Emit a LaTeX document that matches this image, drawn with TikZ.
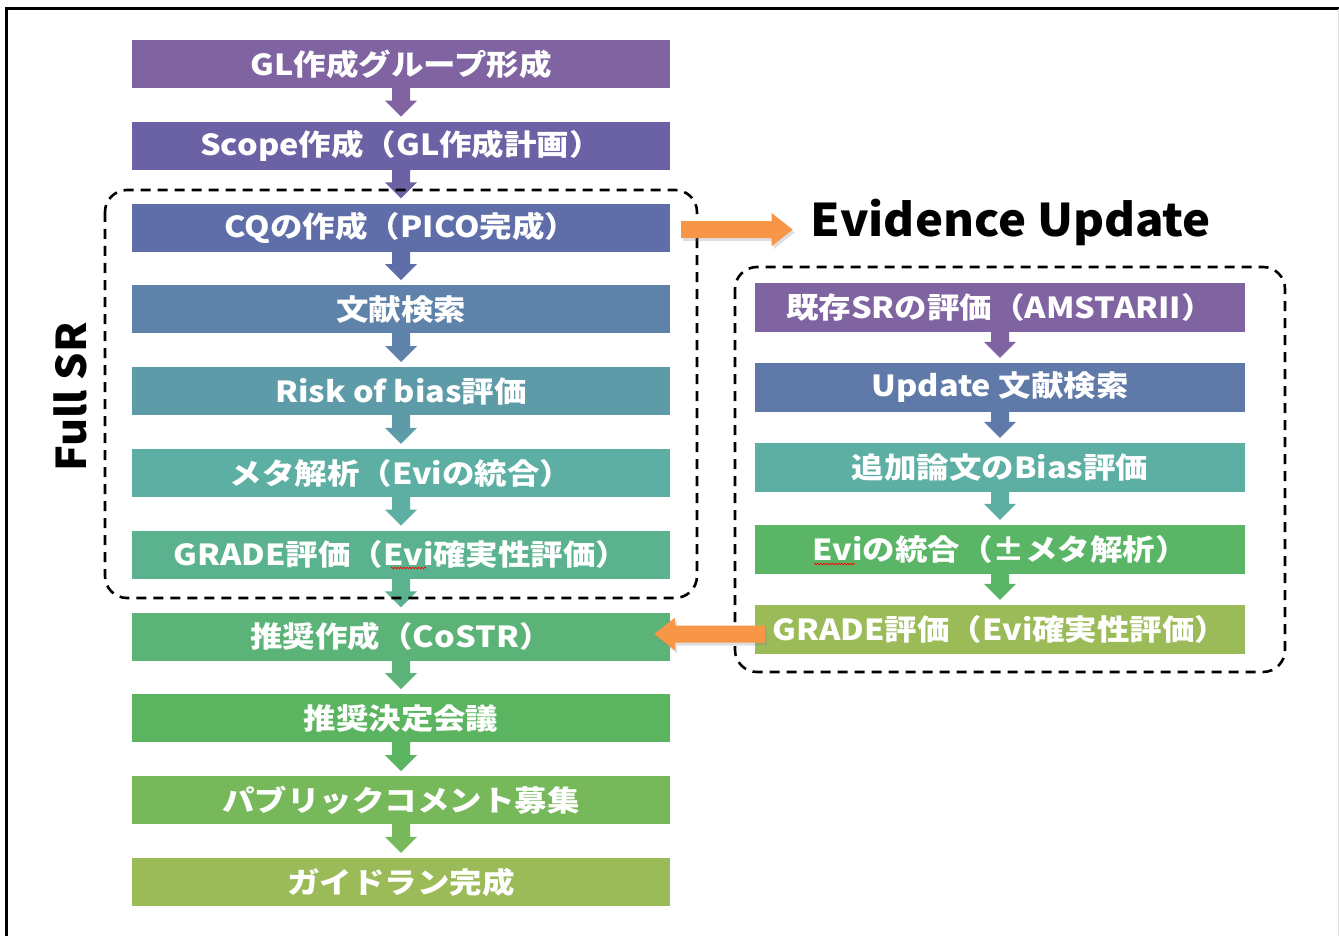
\documentclass[tikz,border=0pt]{standalone}
\usepackage{fontspec}
\setmainfont{Noto Sans CJK JP}[FakeStretch=1.12]
\newfontfamily\titlefont{Noto Sans CJK JP}[FakeStretch=1.05]
\usetikzlibrary{calc,shadows,decorations.pathmorphing}
\definecolor{cA}{HTML}{8064A2}
\definecolor{cB}{HTML}{6A62A4}
\definecolor{cC}{HTML}{5F6DA8}
\definecolor{cD}{HTML}{5E82A9}
\definecolor{cE}{HTML}{5E9BA9}
\definecolor{cF}{HTML}{5DAFA3}
\definecolor{cG}{HTML}{5BB28E}
\definecolor{cH}{HTML}{5BB377}
\definecolor{cI}{HTML}{5BB45F}
\definecolor{cJ}{HTML}{77B85B}
\definecolor{cK}{HTML}{9BBB59}
\definecolor{rB}{HTML}{5F79A8}
\definecolor{rC}{HTML}{5DAFA4}
\definecolor{rD}{HTML}{5BB567}
\definecolor{orangeA}{HTML}{F79646}
\tikzset{
  box/.style={minimum width=538pt, minimum height=48pt, inner sep=0pt, text=white,
    font=\fontsize{29}{30}\selectfont\bfseries},
  rbox/.style={box, minimum width=490pt, minimum height=49pt},
  dashbox/.style={draw=black, line width=2.6pt, dash pattern=on 10pt off 7pt, rounded corners=22pt},
  oshadow/.style={drop shadow={opacity=0.25, shadow xshift=2pt, shadow yshift=-3pt}},
  squig/.style={draw=red, line width=0.7pt, decorate, decoration={snake, amplitude=0.8pt, segment length=3pt}},
}
% vertical block arrow from node #1 (south) to node #2 (north), colour #3
\newcommand\blkdown[3]{%
  \fill[#3] let \p1=(#1.south), \p2=(#2.north) in
    (\x1-9pt,\y1+1pt) -- (\x1+9pt,\y1+1pt) -- (\x1+9pt,\y2+21pt) -- (\x1+16pt,\y2+21pt)
    -- (\x1,\y2+5pt) -- (\x1-16pt,\y2+21pt) -- (\x1-9pt,\y2+21pt) -- cycle;}
% horizontal block arrow from coordinate #1 to coordinate #2, sign #3 (1 = right, -1 = left)
\newcommand\blkhoriz[3]{%
  \fill[orangeA, oshadow] let \p1=(#1), \p2=(#2) in
    (\x1,\y1+8.5pt) -- (\x2-#3*21pt,\y1+8.5pt) -- (\x2-#3*21pt,\y1+16.5pt) -- (\x2,\y1)
    -- (\x2-#3*21pt,\y1-16.5pt) -- (\x2-#3*21pt,\y1-8.5pt) -- (\x1,\y1-8.5pt) -- cycle;}
\begin{document}
\begin{tikzpicture}[x=1pt,y=-1pt]
\useasboundingbox (0,0) rectangle (1339,936);
\fill[white] (0,0) rectangle (1339,936);
% frame
\draw[line width=3pt] (6,936) -- (6,9) -- (1339,9);
\draw[black!12, line width=1pt] (1338,9) -- (1338,936);

% left column
\node[box, fill=cA] (L1) at (401,64) {GL作成グループ形成};
\node[box, fill=cB] (L2) at (401,145.8) {Scope作成（GL作成計画）};
\node[box, fill=cC] (L3) at (401,227.6) {CQの作成（PICO完成）};
\node[box, fill=cD] (L4) at (401,309.4) {文献検索};
\node[box, fill=cE] (L5) at (401,391.2) {Risk of bias評価};
\node[box, fill=cF] (L6) at (401,473) {メタ解析（Eviの統合）};
\node[box, fill=cG] (L7) at (401,554.8) {GRADE評価（Evi確実性評価）};
\node[box, fill=cH] (L8) at (401,636.6) {推奨作成（CoSTR）};
\node[box, fill=cI] (L9) at (401,718.4) {推奨決定会議};
\node[box, fill=cJ] (L10) at (401,800.2) {パブリックコメント募集};
\node[box, fill=cK] (L11) at (401,882) {ガイドラン完成};

\blkdown{L1}{L2}{cA}
\blkdown{L2}{L3}{cB}
\blkdown{L3}{L4}{cC}
\blkdown{L4}{L5}{cD}
\blkdown{L5}{L6}{cE}
\blkdown{L6}{L7}{cF}
\blkdown{L7}{L8}{cG}
\blkdown{L8}{L9}{cH}
\blkdown{L9}{L10}{cI}
\blkdown{L10}{L11}{cJ}

% right column
\node[rbox, fill=cA] (R1) at (1000,307.5) {既存SRの評価（AMSTARII）};
\node[rbox, fill=rB] (R2) at (1000,387.5) {Update 文献検索};
\node[rbox, fill=rC] (R3) at (1000,467.5) {追加論文のBias評価};
\node[rbox, fill=rD] (R4) at (1000,549.5) {Eviの統合（±メタ解析）};
\node[rbox, fill=cK] (R5) at (1000,629.5) {GRADE評価（Evi確実性評価）};

\blkdown{R1}{R2}{cA}
\blkdown{R2}{R3}{rB}
\blkdown{R3}{R4}{rC}
\blkdown{R4}{R5}{rD}

% spell-check squiggles
\path[squig] (391,568) -- (426,568);
\path[squig] (814,564) -- (855,564);

% titles
\node[font=\titlefont\fontsize{45}{48}\selectfont\bfseries, inner sep=0pt] (EU) at (1011,222) {Evidence Update};
\node[font=\titlefont\fontsize{41}{44}\selectfont\bfseries, inner sep=0pt, rotate=90] (FSR) at (70,397) {Full SR};

% dashed groups
\draw[dashbox] (105,190) rectangle (697,598);
\draw[dashbox] (735,267) rectangle (1285,672);

% orange arrows
\coordinate (o1s) at ($(L3.east)+(11,2)$);
\coordinate (o1e) at ($(EU.west)+(-18,0)$);
\path let \p1=(o1s), \p2=(o1e) in coordinate (o1t) at (\x2,\y1);
\blkhoriz{o1s}{o1t}{1}
\coordinate (o2s) at ($(R5.west)+(10,4.5)$);
\coordinate (o2e) at ($(L8.east)+(-16,0)$);
\path let \p1=(o2s), \p2=(o2e) in coordinate (o2t) at (\x2,\y1);
\blkhoriz{o2s}{o2t}{-1}
\end{tikzpicture}
\end{document}
